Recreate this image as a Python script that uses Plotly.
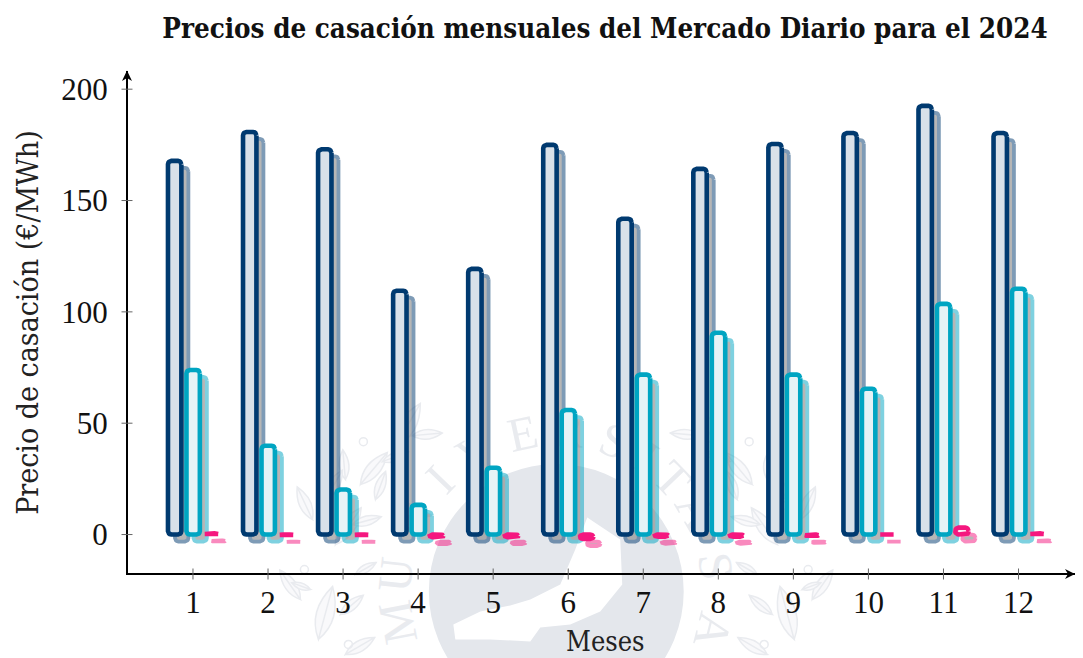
import math
import plotly.graph_objects as go

# ---------- data ----------
meses = [1, 2, 3, 4, 5, 6, 7, 8, 9, 10, 11, 12]
precio_max = [167.8, 180.8, 173.0, 109.5, 119.3, 175.0, 141.8, 164.2, 175.4, 180.3, 192.5, 180.3]
precio_medio = [73.9, 39.9, 20.2, 13.3, 30.0, 55.9, 71.8, 90.6, 71.8, 65.5, 103.6, 110.4]
precio_min = [0.5, -0.3, -0.3, -1.2, -1.2, -2.0, -1.0, -1.0, -0.6, 0.0, 3.1, 0.5]
y_ticks = [0, 50, 100, 150, 200]

titulo = "Precios de casación mensuales del Mercado Diario para el 2024"
etiqueta_x = "Meses"
etiqueta_y = "Precio de casación (€/MWh)"

# ---------- geometry (page pixels; the page body has an 8 px margin) ----------
PAGE_W, PAGE_H, BODY = 1083, 658, 8
W, H = PAGE_W - BODY, PAGE_H - BODY
L, R, T, B = 127.5, 1082.0, 71.0, 573.5
PX_X, PX_Y = 75.09, 2.229
x0_range = 1 - (192.5 - L) / PX_X
x1_range = 1 + (R - 192.5) / PX_X
y0_range = -(B - 535.0) / PX_Y
y1_range = (535.0 - T) / PX_Y
sx, sy = 1 / PX_X, 1 / PX_Y


def rounded(xc, top, half=6.7, r=3.5, dx=0.0, dy=0.0):
    """Outline of a rounded bar from 0 to `top`, sized in pixels, placed in data units."""
    lo, hi = min(0.0, top), max(0.0, top)
    h_px = (hi - lo) / sy
    ry = min(r, h_px / 2)
    xs, ys = [], []
    corners = [(half - r, (hi / sy) - ry, 0, 90), (-half + r, (hi / sy) - ry, 90, 180),
               (-half + r, (lo / sy) + ry, 180, 270), (half - r, (lo / sy) + ry, 270, 360)]
    for cx, cy, a0, a1 in corners:
        for k in range(7):
            a = math.radians(a0 + (a1 - a0) * k / 6)
            xs.append(xc + (cx + r * math.cos(a) + dx) * sx)
            ys.append((cy + ry * math.sin(a) - dy) * sy)
    xs.append(xs[0]); ys.append(ys[0])
    return xs, ys


def series(values, off_px, dx=0.0, dy=0.0):
    X, Y = [], []
    for m, v in zip(meses, values):
        a, b = rounded(m + off_px * sx, v, dx=dx, dy=dy)
        X += a + [None]
        Y += b + [None]
    return X, Y


fig = go.Figure()
specs = [("Máximo", precio_max, -18.3, "#003a70", "#d9e1e9"),
         ("Medio", precio_medio, 0.2, "#00a5c2", "#e6f3f6"),
         ("Mínimo", precio_min, 18.5, "#f5177f", "#fdeaf3")]
for name, vals, off, col, fill in specs:
    X, Y = series(vals, off, dx=7, dy=7)
    fig.add_trace(go.Scatter(x=X, y=Y, mode="lines", fill="toself", fillcolor="#707070",
                             line=dict(color=col, width=3.8), opacity=0.5,
                             hoverinfo="skip", showlegend=False))
    X, Y = series(vals, off)
    fig.add_trace(go.Scatter(x=X, y=Y, mode="lines", fill="toself", fillcolor=fill,
                             line=dict(color=col, width=4.6), name=name, showlegend=False))


# ---------- page pixels to paper ----------
def px(x):
    return (x - L) / (R - L)


def py(y):
    return (B - y) / (B - T)


# ---------- watermark (decoration, page pixels) ----------
WM = "#e4e7ec"
WM2 = "#e9ebef"
CX, CY = 556, 592
shapes = [dict(type="circle", xref="paper", yref="paper", layer="below",
               x0=px(CX - 127.5), x1=px(CX + 127.5), y0=py(CY + 127.5), y1=py(CY - 127.5),
               fillcolor=WM, line=dict(width=0))]

ave = [(587, 518), (605, 530), (620, 540), (622, 585), (600, 612), (570, 625), (540, 628), (530, 642),
       (490, 640), (455, 640), (453, 625), (480, 612), (510, 606), (530, 600), (560, 585), (575, 550)]
shapes.append(dict(type="path", xref="paper", yref="paper", layer="below",
                   path="M" + " L".join(f"{px(a):.5f},{py(b):.5f}" for a, b in ave) + " Z",
                   fillcolor="#ffffff", line=dict(width=0)))

hojas = [(395, 447, -60, 50), (412, 436, -5, 30), (360, 485, -50, 42), (382, 462, -20, 28), (345, 480, -95, 30),
         (335, 545, -55, 45), (352, 525, -15, 30), (312, 520, -115, 36), (318, 640, -75, 55),
         (340, 615, -40, 30), (300, 600, -125, 36), (345, 655, -30, 34), (310, 590, -160, 20),
         (325, 500, -60, 34), (375, 500, -70, 30), (355, 575, -30, 24)]
bayas = [(363, 442), (326, 506), (304, 570), (348, 645)]


def hoja(x, y, ang, ln):
    a = math.radians(ang)
    ux, uy = math.cos(a), math.sin(a)
    nx, ny = -uy, ux
    w = ln * 0.32
    tx, ty = x + ux * ln, y + uy * ln
    m1 = (x + ux * ln * .45 + nx * w, y + uy * ln * .45 + ny * w)
    m2 = (x + ux * ln * .45 - nx * w, y + uy * ln * .45 - ny * w)
    p = lambda q: f"{px(q[0]):.5f},{py(q[1]):.5f}"
    return (f"M{p((x, y))} Q{p(m1)} {p((tx, ty))} Q{p(m2)} {p((x, y))} L{p((tx, ty))}")


for lado in (1, -1):
    for x, y, ang, ln in hojas:
        xx = x if lado == 1 else 2 * CX - x
        aa = ang if lado == 1 else 180 - ang
        shapes.append(dict(type="path", xref="paper", yref="paper", layer="below", path=hoja(xx, y, aa, ln),
                           fillcolor="#f9f9fb", line=dict(color=WM2, width=1.5)))
    for x, y in bayas:
        xx = x if lado == 1 else 2 * CX - x
        shapes.append(dict(type="circle", xref="paper", yref="paper", layer="below",
                           x0=px(xx - 4), x1=px(xx + 4), y0=py(y + 4), y1=py(y - 4),
                           fillcolor="rgba(0,0,0,0)", line=dict(color=WM2, width=1.5)))

letras = ["M", "U", "N", "I", "V", "E", "R", "S", "I", "T", "A", "S", "A"]
angulos = [-101, -84, -63, -46, -30, -12, 4, 21, 34, 46, 60, 81, 104]
for ch, ang in zip(letras, angulos):
    a = math.radians(ang)
    cx, cy = CX + 167 * math.sin(a), CY - 167 * math.cos(a)
    shapes.append(dict(type="rect", xref="paper", yref="paper", layer="below",
                       x0=px(cx - 25), x1=px(cx + 25), y0=py(cy + 25), y1=py(cy - 25),
                       fillcolor="rgba(0,0,0,0)", line=dict(width=0),
                       label=dict(text=ch, textangle=ang, textposition="middle center",
                                  font=dict(family="Liberation Serif", size=48, color=WM2))))

# ---------- ticks that cross the axes, and arrow heads ----------
AX_X, AX_Y = L - 1, B + 1
for m in meses:
    shapes.append(dict(type="line", xref="x", yref="paper", x0=m, x1=m,
                       y0=py(AX_Y + 5.5), y1=py(AX_Y - 5.5), line=dict(color="#666666", width=1)))
for t in y_ticks:
    shapes.append(dict(type="line", xref="paper", yref="y", y0=t, y1=t,
                       x0=px(AX_X - 5.5), x1=px(AX_X + 5.5), line=dict(color="#666666", width=1)))


def flecha(puntos):
    return "M" + " L".join(f"{px(a):.5f},{py(b):.5f}" for a, b in puntos) + " Z"


shapes.append(dict(type="path", xref="paper", yref="paper", fillcolor="#000000", line=dict(width=0),
                   path=flecha([(1075, AX_Y), (1065, AX_Y - 5), (1068, AX_Y), (1065, AX_Y + 5)])))
shapes.append(dict(type="path", xref="paper", yref="paper", fillcolor="#000000", line=dict(width=0),
                   path=flecha([(AX_X, 70.5), (AX_X - 5, 81), (AX_X, 78), (AX_X + 5, 81)])))

SERIF = "Liberation Serif"
SLAB = "DejaVu Serif Condensed"
anns = [dict(xref="paper", yref="paper", x=px(605), y=py(642.5), text=etiqueta_x, showarrow=False,
             xanchor="center", yanchor="middle", font=dict(family=SLAB, size=27, color="#222222")),
        dict(xref="paper", yref="paper", x=px(27), y=py(322.5), text=etiqueta_y, showarrow=False, textangle=-90,
             xanchor="center", yanchor="middle", font=dict(family=SLAB, size=30, color="#222222"))]
fig.update_layout(
    width=W, height=H, margin=dict(l=L - BODY, r=PAGE_W - R, t=T - BODY, b=PAGE_H - B, pad=0),
    paper_bgcolor="#ffffff", plot_bgcolor="rgba(0,0,0,0)", showlegend=False,
    shapes=shapes, annotations=anns,
    title=dict(text=f"<b>{titulo}</b>", x=(605 - BODY) / W, xanchor="center", y=1 - (28 - BODY) / H, yanchor="middle",
               font=dict(family=SLAB, size=27.5, color="#111111")),
    xaxis=dict(range=[x0_range, x1_range], tickmode="array", tickvals=meses, ticktext=[str(m) for m in meses],
               showgrid=False, zeroline=False, showline=True, linecolor="#000000", linewidth=2,
               ticks="outside", ticklen=1, tickwidth=1, tickcolor="rgba(0,0,0,0)",
               tickfont=dict(family=SERIF, size=31, color="#111111")),
    yaxis=dict(range=[y0_range, y1_range], tickmode="array", tickvals=y_ticks, ticktext=[str(t) for t in y_ticks],
               showgrid=False, zeroline=False, showline=True, linecolor="#000000", linewidth=2,
               ticks="outside", ticklen=12, tickwidth=1, tickcolor="rgba(0,0,0,0)",
               tickfont=dict(family=SERIF, size=31, color="#111111")),
)

fig.write_html("out.html")
